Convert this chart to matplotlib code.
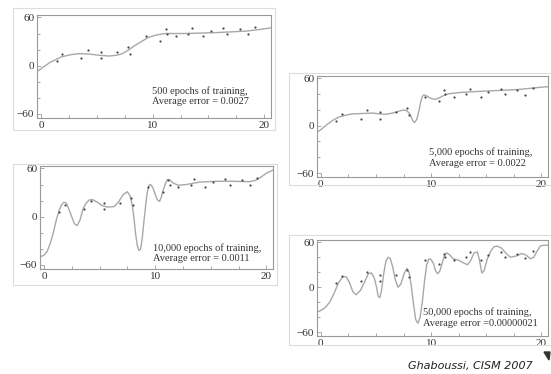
from matplotlib import pyplot as plt
from matplotlib.patches import Rectangle, Polygon
from matplotlib.ticker import MultipleLocator
import numpy as np

################ Data ########################
# training samples (same in every panel)
pts_x = [1.4, 1.9, 3.6, 4.2, 5.4, 5.4, 6.8, 7.8, 8.0, 9.4, 10.7, 11.2, 11.3, 12.1,
         13.2, 13.5, 14.5, 15.2, 16.3, 16.7, 17.8, 18.5, 19.2]
pts_y = [6, 15, 9, 20, 9, 17, 17, 23, 14, 37, 31, 45, 40, 37,
         40, 47, 37, 43, 47, 40, 45, 39, 48]

# network output
c500_x = [-0.35, 0.0, 0.8, 1.85, 2.6, 3.4, 4.3, 5.2, 6.1, 6.8, 7.3, 7.9, 8.4, 9.0, 9.6,
          10.3, 11.1, 12.0, 12.9, 14.2, 15.5, 17.0, 18.4, 19.6, 20.6]
c500_y = [-7, -4, 4, 11, 13.5, 15, 14.5, 13, 12, 13, 15, 20, 25, 30, 35,
          38, 40, 40, 40, 40.5, 41, 42, 43, 45, 47]

c5k_x = [-0.35, 0.0, 0.6, 1.1, 1.65, 2.3, 2.9, 3.8, 4.7, 5.3, 5.9, 6.5, 7.1, 7.5, 7.8,
         8.0, 8.2, 8.35, 8.5, 8.7, 8.9, 9.05, 9.2, 9.35, 9.5, 9.8, 10.1, 10.4, 10.7,
         11.1, 11.6, 12.5, 13.7, 15.0, 16.7, 18.0, 19.4, 20.6]
c5k_y = [-8, -5, 2, 7, 11, 13.5, 15, 15.5, 16, 15, 14.5, 16, 18.5, 20, 19,
         16, 11, 6, 4, 8, 19, 30, 37, 39, 38.5, 36, 34, 33.5, 35,
         38, 40.5, 42, 43, 44, 45, 46, 48, 49.5]

c10k_x = [-0.35, 0.0, 0.3, 0.6, 0.9, 1.15, 1.4, 1.6, 1.8, 2.0, 2.2, 2.5, 2.75, 3.0, 3.25,
          3.5, 3.8, 4.1, 4.4, 4.8, 5.2, 5.7, 6.3, 6.7, 7.1, 7.5, 7.75, 7.95, 8.1, 8.25,
          8.4, 8.55, 8.7, 8.85, 9.0, 9.15, 9.3, 9.45, 9.6, 9.8, 10.0, 10.2, 10.4, 10.55,
          10.7, 10.9, 11.1, 11.3, 11.6, 12.1, 12.8, 14.0, 15.5, 17.0, 18.5, 19.0, 19.5,
          20.0, 20.6]
c10k_y = [-50, -48, -43, -32, -17, -2, 9, 15, 18, 17, 11, 0, -9, -11, -4,
          9, 17, 21, 21, 18, 14, 12, 12.5, 18, 27, 31, 26, 14, -2, -22,
          -36, -42, -40, -26, -5, 14, 31, 39, 40, 36, 28, 21, 19, 24,
          32, 40, 46, 46, 42, 39, 40, 43, 44, 44, 43.5, 45, 49,
          54, 58]

c50k_x = [-0.35, 0.0, 0.4, 0.8, 1.2, 1.6, 2.0, 2.3, 2.6, 2.9, 3.2, 3.6, 4.0, 4.3, 4.6,
          4.85, 5.05, 5.2, 5.35, 5.5, 5.7, 5.9, 6.1, 6.3, 6.5, 6.75, 7.0, 7.25, 7.55,
          7.8, 8.0, 8.2, 8.4, 8.6, 8.8, 9.0, 9.2, 9.4, 9.6, 9.8, 10.0, 10.2, 10.4, 10.6,
          10.8, 11.0, 11.2, 11.4, 11.7, 12.0, 12.5, 13.0, 13.3, 13.6, 13.9, 14.2, 14.4,
          14.6, 14.8, 15.1, 15.4, 15.7, 16.0, 16.4, 16.8, 17.2, 17.8, 18.2, 18.6, 19.0,
          19.3, 19.6, 19.9, 20.2, 20.6]
c50k_y = [-33, -31, -27, -20, -8, 6, 14, 14, 6, -6, -10, -4, 8, 18, 19,
          12, 0, -12, -14, -4, 18, 35, 40, 38, 28, 10, 0, 4, 18,
          25, 20, 2, -22, -43, -48, -40, -20, 8, 30, 38, 37, 32, 22, 18,
          22, 32, 42, 46, 43, 38, 36, 32, 30, 36, 46, 47, 35,
          19, 22, 38, 48, 54, 55, 52, 45, 40, 42, 45, 43, 38,
          40, 48, 55, 56, 56]

curves_x = [c500_x, c5k_x, c10k_x, c50k_x]
curves_y = [c500_y, c5k_y, c10k_y, c50k_y]
labels = ["500 epochs of training,\nAverage error = 0.0027",
          "5,000 epochs of training,\nAverage error = 0.0022",
          "10,000 epochs of training,\nAverage error = 0.0011",
          "50,000 epochs of training,\nAverage error =0.00000021"]

################ Layout (pixels) ########################
W, H = 551, 374
axes_px = [(37, 271, 15, 118), (317, 548, 76, 177), (40, 273, 166, 269), (317, 548, 240, 336)]
frames_px = [(13, 275, 8, 130), (289, 556, 73, 185), (13, 277, 164, 285), (289, 556, 235, 345)]
text_pos = [(0.49, 0.21), (0.485, 0.19), (0.485, 0.155), (0.46, 0.19)]

################## Script #########################
plt.rcParams['font.family'] = ['Liberation Serif', 'DejaVu Serif']
fig = plt.figure(figsize=(W / 100, H / 100), dpi=100)
fig.patch.set_facecolor('white')

for (l, r, t, b) in frames_px:
    fig.patches.append(Rectangle((l / W, 1 - b / H), (r - l) / W, (b - t) / H,
                                 transform=fig.transFigure, fill=False,
                                 edgecolor='#dcdcdc', lw=0.8))

for i in range(4):
    l, r, t, b = axes_px[i]
    ax = fig.add_axes([l / W, 1 - b / H, (r - l) / W, (b - t) / H])
    ax.plot(curves_x[i], curves_y[i], color='#a8a8a8', lw=1.0)
    ax.plot(pts_x, pts_y, 'o', ms=1.6, color='#4a4a4a', mec='none')
    ax.set_xlim(-0.35, 20.6)
    ax.set_ylim(-65, 63)
    ax.set_xticks([0, 10, 20])
    ax.set_yticks([-60, 0, 60])
    ax.xaxis.set_minor_locator(MultipleLocator(2.5))
    ax.yaxis.set_minor_locator(MultipleLocator(20))
    ax.tick_params(which='both', direction='in', color='#999999', width=0.6)
    ax.tick_params(which='major', length=3, labelsize=8, labelcolor='#333333', pad=2)
    ax.tick_params(which='minor', length=2)
    ax.set_yticklabels(['\u221260', '0', '60'])
    for s in ax.spines.values():
        s.set_color('#999999')
        s.set_linewidth(0.8)
    tx, ty = text_pos[i]
    ax.text(tx, ty, labels[i], transform=ax.transAxes, fontsize=7.5, color='#333333',
            va='center', ha='left', linespacing=1.2)

fig.text(533 / W, 1 - 366 / H, "Ghaboussi, CISM 2007", family='DejaVu Sans',
         style='italic', fontsize=8, ha='right', va='center', color='#222222')
fig.patches.append(Polygon([[544 / W, 1 - 352 / H], [550 / W, 1 - 352 / H], [549 / W, 1 - 360 / H]],
                           closed=True, transform=fig.transFigure, color='#333333'))

plt.savefig('out.png', dpi=100)
